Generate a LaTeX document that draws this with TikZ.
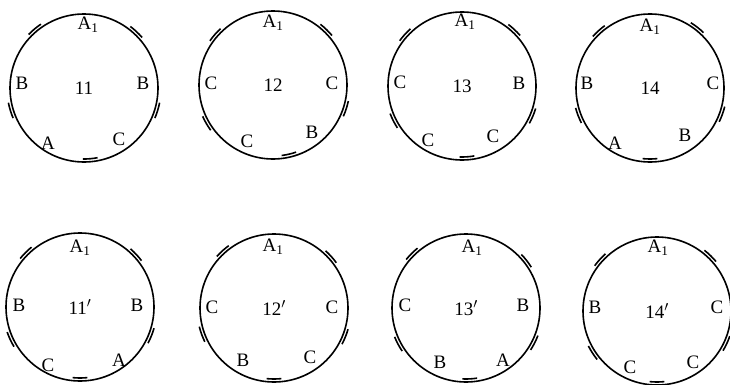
\documentclass[tikz,border=0pt]{standalone}
\usepackage{fontspec}
\setmainfont{Liberation Serif}
\usepackage{tikz}
\usetikzlibrary{calc}

\begin{document}
\begin{tikzpicture}[x=1pt, y=1pt]
    % Styles
    \tikzstyle{ring} = [circle, draw, line width=1.6pt, minimum size=148pt, inner sep=0pt, font=\fontsize{19}{21}\selectfont]
    \tikzstyle{pole} = [inner sep=0pt, font=\fontsize{19}{21}\selectfont]
    \tikzstyle{lap} = [line width=1.6pt]

    \useasboundingbox (0,0) rectangle (730,384);

    % Upper row
    \node [ring] (c11) at (84,296) {11};
    \node [pole] (c11t) at ($(c11)+(4,63)$) {A\textsubscript{1}};
    \node [pole] (c11l) at ($(c11)+(-62,5)$) {B};
    \node [pole] (c11r) at ($(c11)+(59,5)$) {B};
    \node [pole] (c11bl) at ($(c11)+(-36,-55)$) {A};
    \node [pole] (c11br) at ($(c11)+(35,-51)$) {C};
    \foreach \g/\s in {130/3, 47/3, -17/3, -85/-3, 197/3}
        \draw [lap] ($(c11)+({\g-6}:{74+\s})$) arc [start angle=\g-6, end angle=\g+6, radius=74+\s];

    \node [ring] (c12) at (273,299) {12};
    \node [pole] (c12t) at ($(c12)+(0,62)$) {A\textsubscript{1}};
    \node [pole] (c12l) at ($(c12)+(-62,2)$) {C};
    \node [pole] (c12r) at ($(c12)+(59,2)$) {C};
    \node [pole] (c12bl) at ($(c12)+(-26,-56)$) {C};
    \node [pole] (c12br) at ($(c12)+(39,-47)$) {B};
    \foreach \g/\s in {139/3, 46/3, -18/3, -77/-3, 210/3}
        \draw [lap] ($(c12)+({\g-6}:{74+\s})$) arc [start angle=\g-6, end angle=\g+6, radius=74+\s];

    \node [ring] (c13) at (462,298) {13};
    \node [pole] (c13t) at ($(c13)+(3,64)$) {A\textsubscript{1}};
    \node [pole] (c13l) at ($(c13)+(-62,4)$) {C};
    \node [pole] (c13r) at ($(c13)+(57,3)$) {B};
    \node [pole] (c13bl) at ($(c13)+(-34,-54)$) {C};
    \node [pole] (c13br) at ($(c13)+(31,-50)$) {C};
    \foreach \g/\s in {138/3, 47/3, -23/3, -86/-3, 207/3}
        \draw [lap] ($(c13)+({\g-6}:{74+\s})$) arc [start angle=\g-6, end angle=\g+6, radius=74+\s];

    \node [ring] (c14) at (650,296) {14};
    \node [pole] (c14t) at ($(c14)+(0,61)$) {A\textsubscript{1}};
    \node [pole] (c14l) at ($(c14)+(-63,5)$) {B};
    \node [pole] (c14r) at ($(c14)+(63,5)$) {C};
    \node [pole] (c14bl) at ($(c14)+(-35,-55)$) {A};
    \node [pole] (c14br) at ($(c14)+(35,-47)$) {B};
    \foreach \g/\s in {132/3, 52/3, -20/3, -90/-3, 201/3}
        \draw [lap] ($(c14)+({\g-6}:{74+\s})$) arc [start angle=\g-6, end angle=\g+6, radius=74+\s];

    % Lower row
    \node [ring] (c11p) at (80,77) {11$'$};
    \node [pole] (c11pt) at ($(c11p)+(0,59)$) {A\textsubscript{1}};
    \node [pole] (c11pl) at ($(c11p)+(-61,2)$) {B};
    \node [pole] (c11pr) at ($(c11p)+(57,2)$) {B};
    \node [pole] (c11pbl) at ($(c11p)+(-32,-58)$) {C};
    \node [pole] (c11pbr) at ($(c11p)+(39,-53)$) {A};
    \foreach \g/\s in {135/3, 43/3, -22/3, -90/-3, 205/3}
        \draw [lap] ($(c11p)+({\g-6}:{74+\s})$) arc [start angle=\g-6, end angle=\g+6, radius=74+\s];

    \node [ring] (c12p) at (274,76) {12$'$};
    \node [pole] (c12pt) at ($(c12p)+(-1,61)$) {A\textsubscript{1}};
    \node [pole] (c12pl) at ($(c12p)+(-62,1)$) {C};
    \node [pole] (c12pr) at ($(c12p)+(58,1)$) {C};
    \node [pole] (c12pbl) at ($(c12p)+(-31,-52)$) {B};
    \node [pole] (c12pbr) at ($(c12p)+(36,-49)$) {C};
    \foreach \g/\s in {132/3, 42/3, -22/3, -90/-3, 200/3}
        \draw [lap] ($(c12p)+({\g-6}:{74+\s})$) arc [start angle=\g-6, end angle=\g+6, radius=74+\s];

    \node [ring] (c13p) at (466,76) {13$'$};
    \node [pole] (c13pt) at ($(c13p)+(6,60)$) {A\textsubscript{1}};
    \node [pole] (c13pl) at ($(c13p)+(-61,3)$) {C};
    \node [pole] (c13pr) at ($(c13p)+(57,3)$) {B};
    \node [pole] (c13pbl) at ($(c13p)+(-26,-54)$) {B};
    \node [pole] (c13pbr) at ($(c13p)+(37,-52)$) {A};
    \foreach \g/\s in {135/3, 38/3, -27/3, -87/-3, 208/3}
        \draw [lap] ($(c13p)+({\g-6}:{74+\s})$) arc [start angle=\g-6, end angle=\g+6, radius=74+\s];

    \node [ring] (c14p) at (657,73) {14$'$};
    \node [pole] (c14pt) at ($(c14p)+(1,63)$) {A\textsubscript{1}};
    \node [pole] (c14pl) at ($(c14p)+(-62,4)$) {B};
    \node [pole] (c14pr) at ($(c14p)+(60,4)$) {C};
    \node [pole] (c14pbl) at ($(c14p)+(-27,-56)$) {C};
    \node [pole] (c14pbr) at ($(c14p)+(36,-51)$) {C};
    \foreach \g/\s in {138/3, 46/3, -25/3, -90/-3, 213/3}
        \draw [lap] ($(c14p)+({\g-6}:{74+\s})$) arc [start angle=\g-6, end angle=\g+6, radius=74+\s];
\end{tikzpicture}
\end{document}
